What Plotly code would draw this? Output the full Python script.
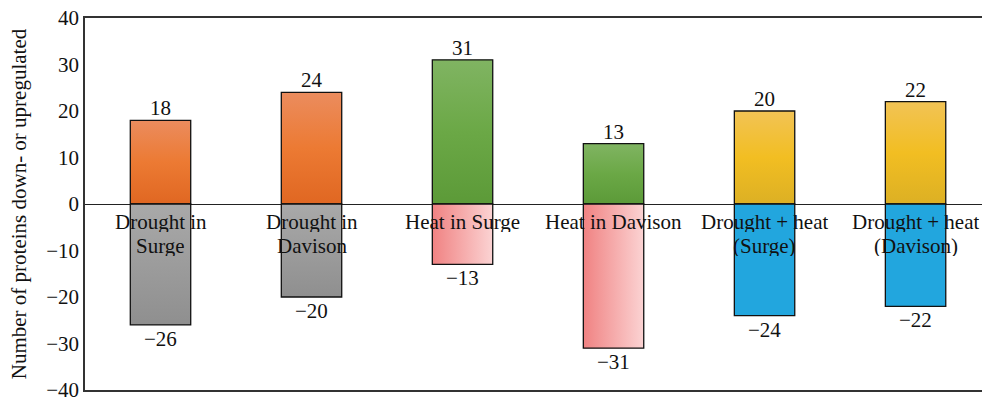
import plotly.graph_objects as go

# Data
categories = ["Drought in<br>Surge", "Drought in<br>Davison", "Heat in Surge",
              "Heat in Davison", "Drought + heat<br>(Surge)", "Drought + heat<br>(Davison)"]
upregulated = [18, 24, 31, 13, 20, 22]
downregulated = [-26, -20, -13, -31, -24, -22]

up_colors = [
    ["#E06722", "#EC7A33", "#EB8C5E"],
    ["#E06722", "#EC7A33", "#EB8C5E"],
    ["#5C9A38", "#6BA846", "#80B462"],
    ["#5C9A38", "#6BA846", "#80B462"],
    ["#DCB024", "#F2BE22", "#F2C355"],
    ["#DCB024", "#F2BE22", "#F2C355"],
]
down_colors = [
    (["#8F8F8F", "#A9A9A9"], "vertical"),
    (["#8F8F8F", "#A9A9A9"], "vertical"),
    (["#F08282", "#FBD3D3"], "horizontal"),
    (["#F08282", "#FBD3D3"], "horizontal"),
    (["#22A6DE", "#22A6DE"], "vertical"),
    (["#22A6DE", "#22A6DE"], "vertical"),
]

FONT = "Liberation Serif"
FS = 21
half = 0.2

fig = go.Figure()


def add_bar(i, value, colors, orient):
    xs = [i - half, i + half, i + half, i - half, i - half]
    ys = [0, 0, value, value, 0]
    n = len(colors)
    scale = [[k / (n - 1), c] for k, c in enumerate(colors)]
    fig.add_trace(go.Scatter(
        x=xs, y=ys, mode="lines", fill="toself",
        fillgradient=dict(type=orient, colorscale=scale),
        line=dict(color="#111111", width=1.3),
        hoverinfo="skip", showlegend=False,
    ))


for i, v in enumerate(upregulated):
    add_bar(i, v, up_colors[i], "vertical")
for i, v in enumerate(downregulated):
    cols, orient = down_colors[i]
    add_bar(i, v, cols, orient)

# Value labels
for i, v in enumerate(upregulated):
    fig.add_annotation(x=i, y=v, yanchor="bottom", yshift=-2, text=str(v),
                       showarrow=False, font=dict(family=FONT, size=FS, color="#111111"))
for i, v in enumerate(downregulated):
    fig.add_annotation(x=i, y=v, yanchor="top", yshift=0, text="\u2212" + str(abs(v)),
                       showarrow=False, font=dict(family=FONT, size=FS, color="#111111"))

# Category labels just below the zero line (one annotation per line for tight leading)
for i, name in enumerate(categories):
    for k, line in enumerate(name.split("<br>")):
        fig.add_annotation(
            x=i, y=0, yanchor="top", yshift=-5 - 24 * k, text=line, showarrow=False,
            height=21, valign="middle",
            font=dict(family=FONT, size=FS, color="#111111"),
        )

fig.update_layout(
    width=982, height=402,
    margin=dict(l=85, r=0, t=18, b=12),
    paper_bgcolor="white", plot_bgcolor="white",
    font=dict(family=FONT, size=FS, color="#111111"),
    xaxis=dict(
        range=[-0.5, 5.44], showticklabels=False, showgrid=False, zeroline=False,
        showline=True, linecolor="#333333", linewidth=1.5, mirror=True, ticks="",
        automargin=False,
    ),
    yaxis=dict(
        range=[-40, 40], dtick=10, showgrid=False, zeroline=True,
        zerolinecolor="#222222", zerolinewidth=1.2,
        showline=True, linecolor="#333333", linewidth=1.5, ticks="",
        ticklabeloverflow="allow", automargin=False,
        tickfont=dict(family=FONT, size=FS, color="#111111"),
        title=dict(text="Number of proteins down- or upregulated",
                   font=dict(family=FONT, size=FS, color="#111111"), standoff=14),
    ),
)

fig.write_html("out.html", config={"displayModeBar": False},
               post_script="document.body.style.margin='0';")
